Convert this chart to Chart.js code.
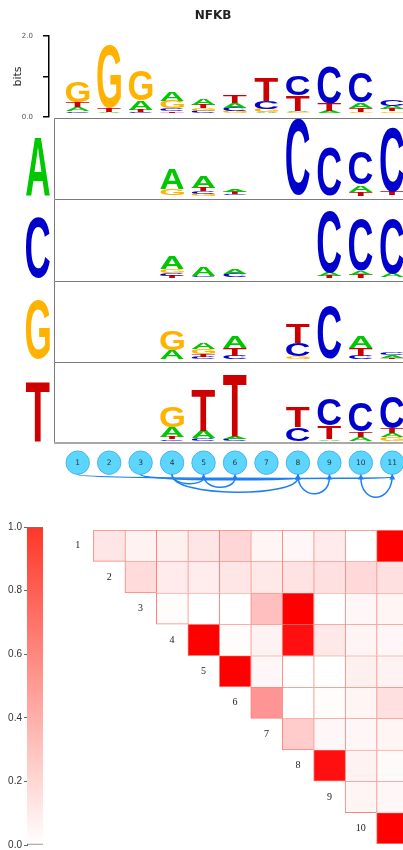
<!DOCTYPE html>
<html><head><meta charset="utf-8">
<script src="https://cdn.jsdelivr.net/npm/chart.js@4.4.1/dist/chart.umd.min.js"></script>
<style>
html,body{margin:0;padding:0;background:#fff;width:403px;height:850px;overflow:hidden;position:relative}
canvas{position:absolute;left:0}
</style></head><body>
<canvas id="cTop" style="top:0px" width="426" height="140"></canvas>
<canvas id="cRowA" style="top:118px" width="403" height="81"></canvas>
<canvas id="cRowC" style="top:199px" width="403" height="82"></canvas>
<canvas id="cRowG" style="top:281px" width="403" height="81"></canvas>
<canvas id="cRowT" style="top:362px" width="403" height="82"></canvas>
<canvas id="cNodes" style="top:443px" width="403" height="62"></canvas>
<canvas id="cHeat" style="top:515px" width="403" height="335"></canvas>
<canvas id="cBar" style="top:515px" width="50" height="345"></canvas>
<script>
// ---------- DATA ----------
const positions = [1,2,3,4,5,6,7,8,9,10,11];
const bases = ['A','C','G','T'];
const motifName = 'NFKB';
const bitsTicks = [0, 1, 2];

// overall logo (bits)
const topA = [0.10,0.02,0.23,0.22,0.16,0.12,0.02,0.03,0.05,0.14,0.08];
const topC = [0.04,0.00,0.02,0.07,0.05,0.08,0.20,0.48,0.90,0.74,0.15];
const topG = [0.52,1.56,0.74,0.18,0.06,0.05,0.08,0.02,0.01,0.02,0.04];
const topT = [0.13,0.10,0.05,0.04,0.08,0.19,0.57,0.38,0.18,0.10,0.06];

// conditional logos (row letter given)
const rowA_A = [0,0,0,0.52,0.28,0.06,0,0.01,0.01,0.17,0.01];
const rowA_C = [0,0,0,0.01,0.06,0.04,0,1.88,1.21,0.80,1.58];
const rowA_G = [0,0,0,0.15,0.05,0.01,0,0,0,0,0];
const rowA_T = [0,0,0,0.01,0.08,0.05,0,0,0,0.10,0.08];

const rowC_A = [0,0,0,0.32,0.23,0.12,0,0,0.08,0.10,0.08];
const rowC_C = [0,0,0,0.06,0.04,0.09,0,0,1.53,1.27,1.36];
const rowC_G = [0,0,0,0.10,0,0,0,0,0,0,0.01];
const rowC_T = [0,0,0,0.05,0.01,0.01,0,0,0.05,0.08,0.01];

const rowG_A = [0,0,0,0.22,0.16,0.27,0,0,0,0.27,0.05];
const rowG_C = [0,0,0,0,0.05,0.08,0,0.33,1.29,0.08,0.06];
const rowG_G = [0,0,0,0.47,0.12,0,0,0.06,0,0,0];
const rowG_T = [0,0,0,0,0.07,0.18,0,0.48,0,0.18,0.03];

const rowT_A = [0,0,0,0.25,0.19,0.07,0,0,0.04,0.10,0.10];
const rowT_C = [0,0,0,0.04,0.06,0.05,0,0.33,0.64,0.72,0.78];
const rowT_G = [0,0,0,0.53,0,0,0,0,0,0,0.09];
const rowT_T = [0,0,0,0.05,1.03,1.54,0,0.52,0.33,0.12,0.11];

// dependency links (from, to)
const links = [[1,11],[3,8],[4,8],[4,5],[5,6],[8,9],[11,10]];

// pairwise dependency (row i, columns i+1..11)
const heat1  = [0.10,0.05,0.06,0.10,0.16,0.04,0.03,0.08,0.00,1.00];
const heat2  = [0.14,0.08,0.07,0.10,0.09,0.11,0.12,0.15,0.12];
const heat3  = [0.01,0.00,0.00,0.25,1.00,0.00,0.03,0.04];
const heat4  = [1.00,0.01,0.05,0.94,0.09,0.04,0.03];
const heat5  = [1.00,0.03,0.00,0.00,0.06,0.05];
const heat6  = [0.42,0.00,0.01,0.04,0.12];
const heat7  = [0.20,0.03,0.03,0.04];
const heat8  = [0.94,0.05,0.02];
const heat9  = [0.04,0.03];
const heat10 = [1.00];
const colorbarTicks = [0.0,0.2,0.4,0.6,0.8,1.0];

// ---------- STYLE / LAYOUT ----------
const COLORS = {A:'#00c800', C:'#0000cc', G:'#ffb300', T:'#cc0000'};
const COL1_PX = 77.7, COL_STEP = 31.46, PX_PER_BIT = 40.5;
function xRange(left, right){ return {min: 1 + (left-COL1_PX)/COL_STEP, max: 1 + (right-COL1_PX)/COL_STEP}; }
const FONT_LETTER = 'bold 100px "Liberation Sans", Arial, sans-serif';

function drawGlyph(ctx, ch, x, y, w, h, color){
  if (!(w > 0) || !(h > 0.35)) return;
  ctx.save();
  ctx.font = FONT_LETTER;
  ctx.textAlign = 'left'; ctx.textBaseline = 'alphabetic';
  const m = ctx.measureText(ch);
  const gw = m.actualBoundingBoxLeft + m.actualBoundingBoxRight;
  const gh = m.actualBoundingBoxAscent + m.actualBoundingBoxDescent;
  ctx.translate(x, y);
  ctx.scale(w/gw, h/gh);
  ctx.fillStyle = color;
  ctx.fillText(ch, m.actualBoundingBoxLeft, m.actualBoundingBoxAscent);
  ctx.restore();
}

// build stacked datasets ordered by rank (smallest at bottom)
function rankDatasets(cols){
  const ranks = [[],[],[],[]];
  positions.forEach((p, i) => {
    const items = bases.map(b => ({b, v: cols[b][i]})).sort((a, c) => a.v - c.v);
    items.forEach((it, r) => ranks[r].push({x: p, y: it.v, nt: it.b}));
  });
  return ranks.map((data, r) => ({
    label: 'rank' + r, data, yAxisID: 'yl',
    backgroundColor: 'rgba(0,0,0,0)', borderWidth: 0,
    barPercentage: 0.75, categoryPercentage: 1
  }));
}

const letterPlugin = {
  id: 'letters',
  afterDatasetsDraw(chart){
    const ctx = chart.ctx;
    chart.data.datasets.forEach((ds, di) => {
      const meta = chart.getDatasetMeta(di);
      meta.data.forEach((bar, i) => {
        const p = bar.getProps(['x','y','base','width'], true);
        const nt = ds.data[i].nt;
        const top = Math.min(p.y, p.base), h = Math.abs(p.base - p.y);
        drawGlyph(ctx, nt, p.x - p.width/2, top, p.width, h, COLORS[nt]);
      });
    });
  }
};

const rowBoxPlugin = {
  id: 'rowBox',
  beforeDatasetsDraw(chart, args, opts){
    const {ctx, chartArea: a} = chart;
    ctx.save();
    ctx.strokeStyle = '#7a7a7a'; ctx.lineWidth = 1;
    ctx.beginPath();
    ctx.moveTo(a.left + 0.5, a.bottom); ctx.lineTo(a.left + 0.5, a.top + 0.5); ctx.lineTo(a.right, a.top + 0.5);
    ctx.stroke();
    if (opts.isLast){
      ctx.strokeStyle = '#a8a8a8'; ctx.lineWidth = 2;
      ctx.beginPath(); ctx.moveTo(a.left, a.bottom - 1); ctx.lineTo(a.right, a.bottom - 1); ctx.stroke();
    }
    ctx.restore();
    drawGlyph(ctx, opts.letter, 26, a.top + 19, 24, a.bottom - a.top - 22, COLORS[opts.letter]);
  }
};

const common = {responsive: false, animation: false, events: []};
const xTicks = {stepSize: 1, includeBounds: false};

// ---------- TOP LOGO ----------
const topCanvas = document.getElementById('cTop');
new Chart(topCanvas, {
  type: 'bar',
  data: {datasets: rankDatasets({A: topA, C: topC, G: topG, T: topT})},
  options: Object.assign({}, common, {
    layout: {padding: {top: 0, bottom: topCanvas.height - 117, left: 0, right: 0}},
    plugins: {
      legend: {display: false}, tooltip: {enabled: false},
      title: {display: true, text: motifName, color: '#222',
        font: {family: 'DejaVu Sans', size: 12, weight: 'bold'},
        padding: {top: 8.5, bottom: 13.1}}
    },
    scales: {
      x: Object.assign({type: 'linear', display: false, stacked: true, offset: false, ticks: xTicks}, xRange(49, 426)),
      yl: {display: false, stacked: true, min: -0.1, max: 1.9},
      y: {position: 'left', min: bitsTicks[0], max: bitsTicks[bitsTicks.length-1],
        afterFit: s => { s.width = 49; },
        afterBuildTicks: s => { s.ticks = bitsTicks.map(v => ({value: v})); },
        ticks: {callback: v => (v === 1 ? '' : v.toFixed(1)), color: '#555',
          font: {family: 'DejaVu Sans', size: 7}, padding: 10},
        grid: {drawOnChartArea: false, drawTicks: true, tickLength: 6, color: '#000', lineWidth: 1.5},
        border: {display: true, color: '#000', width: 1.5},
        title: {display: true, text: 'bits', color: '#222', font: {family: 'DejaVu Sans', size: 11},
          padding: {top: 12, bottom: 0}}
      }
    }
  }),
  plugins: [letterPlugin]
});

// ---------- CONDITIONAL ROWS ----------
function rowChart(id, cols, letter, isLast){
  const el = document.getElementById(id);
  const yMin = -0.08;
  return new Chart(el, {
    type: 'bar',
    data: {datasets: rankDatasets(cols)},
    options: Object.assign({}, common, {
      layout: {padding: {left: 54, right: 0, top: 0, bottom: 0}},
      plugins: {legend: {display: false}, tooltip: {enabled: false}, rowBox: {letter, isLast}},
      scales: {
        x: Object.assign({type: 'linear', display: false, stacked: true, offset: false, ticks: xTicks}, xRange(54, 403)),
        yl: {display: false, stacked: true, min: yMin, max: yMin + el.height / PX_PER_BIT}
      }
    }),
    plugins: [rowBoxPlugin, letterPlugin]
  });
}
rowChart('cRowA', {A: rowA_A, C: rowA_C, G: rowA_G, T: rowA_T}, 'A', false);
rowChart('cRowC', {A: rowC_A, C: rowC_C, G: rowC_G, T: rowC_T}, 'C', false);
rowChart('cRowG', {A: rowG_A, C: rowG_C, G: rowG_G, T: rowG_T}, 'G', false);
rowChart('cRowT', {A: rowT_A, C: rowT_C, G: rowT_G, T: rowT_T}, 'T', true);

// ---------- NODES + LINKS ----------
const linkPlugin = {
  id: 'links',
  afterDatasetsDraw(chart, args, opts){
    const {ctx} = chart;
    const xs = chart.scales.x, ys = chart.scales.y;
    const R = opts.radius;
    const y0 = ys.getPixelForValue(0) + R;
    ctx.save();
    ctx.strokeStyle = opts.color; ctx.fillStyle = opts.color; ctx.lineWidth = 1.5;
    links.forEach(([a, b], k) => {
      const xa = xs.getPixelForValue(a), xb = xs.getPixelForValue(b);
      const D = opts.depths[k] / 0.75;
      ctx.beginPath();
      ctx.moveTo(xa, y0);
      ctx.bezierCurveTo(xa, y0 + D, xb, y0 + D, xb, y0 + 3);
      ctx.stroke();
      ctx.beginPath();
      ctx.moveTo(xb, y0 - 0.5); ctx.lineTo(xb - 3, y0 + 5); ctx.lineTo(xb + 3, y0 + 5); ctx.closePath();
      ctx.fill();
    });
    ctx.restore();
    // node labels
    const meta = chart.getDatasetMeta(0);
    ctx.save();
    ctx.fillStyle = '#333'; ctx.font = '7.5px "DejaVu Sans", sans-serif';
    ctx.textAlign = 'center'; ctx.textBaseline = 'middle';
    meta.data.forEach((pt, i) => ctx.fillText(String(positions[i]), pt.x, pt.y + 0.5));
    ctx.restore();
  }
};
new Chart(document.getElementById('cNodes'), {
  type: 'scatter',
  data: {datasets: [{data: positions.map(p => ({x: p, y: 0})), clip: false,
    pointRadius: 11.7, pointBackgroundColor: 'rgb(92,214,255)', pointBorderColor: 'rgb(70,180,240)', pointBorderWidth: 1}]},
  options: Object.assign({}, common, {
    layout: {padding: 0, autoPadding: false},
    plugins: {legend: {display: false}, tooltip: {enabled: false},
      links: {radius: 11.7, color: '#1e7ff5', depths: [3.5, 5, 17.5, 9, 12.5, 19, 22.5]}},
    scales: {
      x: Object.assign({type: 'linear', display: false, offset: false}, xRange(0, 403)),
      y: {display: false, min: -2.15, max: 1}
    }
  }),
  plugins: [linkPlugin]
});

// ---------- HEATMAP ----------
const heatRows = [heat1, heat2, heat3, heat4, heat5, heat6, heat7, heat8, heat9, heat10];
function heatColor(v){ const c = Math.round(255 * (1 - v)); return `rgb(255,${c},${c})`; }
const heatLabelPlugin = {
  id: 'heatLabels',
  afterDatasetsDraw(chart){
    const {ctx} = chart; const xs = chart.scales.x, ys = chart.scales.y;
    ctx.save();
    ctx.fillStyle = '#222'; ctx.font = '10px "Liberation Serif", "DejaVu Serif", serif';
    ctx.textAlign = 'center'; ctx.textBaseline = 'middle';
    heatRows.forEach((r, k) => ctx.fillText(String(k + 1), xs.getPixelForValue(k + 1), ys.getPixelForValue(k + 1)));
    ctx.restore();
  }
};
new Chart(document.getElementById('cHeat'), {
  type: 'bar',
  data: {datasets: heatRows.map((row, k) => {
    const i = k + 1;
    return {
      label: 'row' + i,
      data: row.map((v, m) => ({x: i + 1 + m, y: [i - 0.5, i + 0.5], v})),
      backgroundColor: c => heatColor(c.raw ? c.raw.v : 0),
      borderColor: '#f8847a',
      borderWidth: c => ({top: 1, left: 1, right: 0, bottom: (c.raw && c.raw.x === i + 1) ? 1 : 0}),
      borderSkipped: false, grouped: false, barPercentage: 1, categoryPercentage: 1
    };
  })},
  options: Object.assign({}, common, {
    layout: {padding: {top: 15, bottom: 6, left: 0, right: 0}},
    plugins: {legend: {display: false}, tooltip: {enabled: false}},
    scales: {
      x: Object.assign({type: 'linear', display: false, offset: false, ticks: xTicks}, xRange(0, 403)),
      y: {type: 'linear', display: false, reverse: true, min: 0.5, max: 10.5}
    }
  }),
  plugins: [heatLabelPlugin]
});

// ---------- COLOR BAR ----------
const barCanvas = document.getElementById('cBar');
new Chart(barCanvas, {
  type: 'bar',
  data: {labels: ['scale'], datasets: [{data: [[0, 1]],
    backgroundColor: c => {
      const a = c.chart.chartArea; if (!a) return 'rgba(0,0,0,0)';
      const g = c.chart.ctx.createLinearGradient(0, a.bottom, 0, a.top);
      g.addColorStop(0, '#ffffff'); g.addColorStop(1, 'rgb(255,55,40)');
      return g;
    },
    borderColor: '#777', borderWidth: {top: 1, bottom: 1, left: 0, right: 0}, borderSkipped: false,
    barPercentage: 1, categoryPercentage: 1}]},
  options: Object.assign({}, common, {
    layout: {padding: {top: 12, bottom: barCanvas.height - 330, left: 0, right: 7}},
    plugins: {legend: {display: false}, tooltip: {enabled: false}},
    scales: {
      x: {display: false},
      y: {position: 'left', min: 0, max: 1,
        afterFit: s => { s.width = 27; },
        afterBuildTicks: s => { s.ticks = colorbarTicks.map(v => ({value: v})); },
        ticks: {callback: v => Number(v).toFixed(1), color: '#333',
          font: {family: 'Liberation Sans', size: 10}, padding: 2},
        grid: {drawOnChartArea: false, tickLength: 3, color: '#666'},
        border: {display: true, color: '#666', width: 1}
      }
    }
  })
});
</script>
</body></html>
